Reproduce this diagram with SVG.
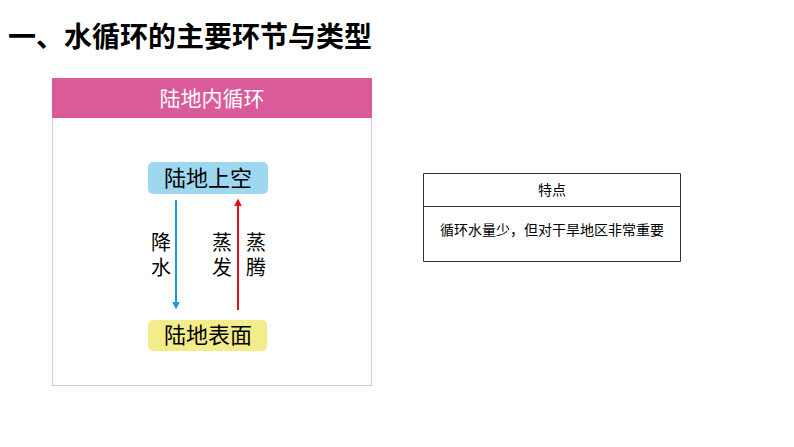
<svg xmlns="http://www.w3.org/2000/svg" width="794" height="447" viewBox="0 0 794 447">
<defs>
<style>
text{font-family:"Liberation Sans","Noto Sans CJK SC",sans-serif;fill:#000}
.lbl{font-size:20px;text-anchor:middle}
.box{font-size:22px;text-anchor:middle}
.tb{font-size:14px;text-anchor:middle}
</style>
<marker id="ab" viewBox="0 0 10 10" refX="8" refY="5" markerWidth="4" markerHeight="4" orient="auto"><path d="M0,0L10,5L0,10z" fill="#1a9ad6"/></marker>
<marker id="ar" viewBox="0 0 10 10" refX="8" refY="5" markerWidth="4" markerHeight="4" orient="auto"><path d="M0,0L10,5L0,10z" fill="#e0101a"/></marker>
</defs>
<rect width="794" height="447" fill="#fff"/>
<text x="8" y="47" font-size="28" font-weight="bold">一、水循环的主要环节与类型</text>
<g id="panel">
<rect x="52.5" y="78.5" width="319" height="307" fill="#fff" stroke="#e2c6d6"/>
<rect x="52" y="78" width="320" height="40" fill="#db5a9a"/>
<text x="212" y="106" font-size="21" text-anchor="middle" style="fill:#fff">陆地内循环</text>
</g>
<g id="sky"><rect x="148" y="162" width="120" height="32" rx="5" fill="#9dd7f0"/><text class="box" x="208" y="186">陆地上空</text></g>
<g id="ground"><rect x="148" y="320" width="119" height="31" rx="5" fill="#f3ec8a"/><text class="box" x="208" y="343">陆地表面</text></g>
<g id="connectors">
<line x1="176" y1="200" x2="176" y2="308" stroke="#1a9ad6" stroke-width="2" marker-end="url(#ab)"/>
<line x1="238" y1="310" x2="238" y2="200" stroke="#e0101a" stroke-width="2" marker-end="url(#ar)"/>
</g>
<g id="labels">
<text class="lbl" x="161" y="250">降</text><text class="lbl" x="161" y="275">水</text>
<text class="lbl" x="222" y="250">蒸</text><text class="lbl" x="222" y="275">发</text>
<text class="lbl" x="256" y="250">蒸</text><text class="lbl" x="256" y="275">腾</text>
</g>
<g id="table" stroke="#333" stroke-width="1" fill="none">
<path d="M423.5,173.5H680.5V261.5H423.5Z M423.5,206.5H680.5"/>
</g>
<text class="tb" x="552" y="195">特点</text>
<text class="tb" x="552" y="235">循环水量少，但对干旱地区非常重要</text>
</svg>
